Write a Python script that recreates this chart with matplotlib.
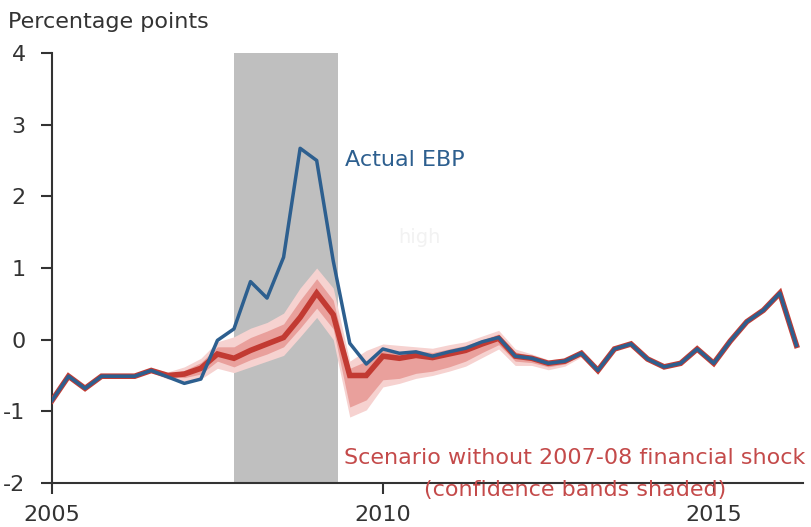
import numpy as np
import matplotlib
matplotlib.use("Agg")
import matplotlib.pyplot as plt

plt.rcParams['font.family'] = ['DejaVu Sans']
plt.rcParams['axes.unicode_minus'] = False

# quarterly observations, 2005Q1 .. 2016Q2
quarters = 2005 + 0.25 * np.arange(46)

actual_ebp = [-0.85, -0.51, -0.68, -0.51, -0.51, -0.51, -0.43, -0.52, -0.61, -0.55,
              -0.01, 0.15, 0.81, 0.58, 1.15, 2.67, 2.50, 1.10, -0.05, -0.34,
              -0.13, -0.19, -0.17, -0.23, -0.17, -0.12, -0.03, 0.03, -0.23, -0.26,
              -0.33, -0.30, -0.19, -0.43, -0.13, -0.06, -0.27, -0.38, -0.33, -0.13,
              -0.33, -0.02, 0.25, 0.41, 0.65, -0.08]

scenario = [-0.85, -0.51, -0.68, -0.51, -0.51, -0.51, -0.43, -0.50, -0.48, -0.40,
            -0.20, -0.26, -0.15, -0.06, 0.03, 0.31, 0.65, 0.35, -0.50, -0.50,
            -0.23, -0.26, -0.22, -0.25, -0.20, -0.15, -0.06, 0.02, -0.23, -0.26,
            -0.33, -0.30, -0.19, -0.43, -0.13, -0.06, -0.27, -0.38, -0.33, -0.13,
            -0.33, -0.02, 0.25, 0.41, 0.65, -0.08]

outer_hi = [-0.85, -0.51, -0.68, -0.51, -0.51, -0.51, -0.40, -0.45, -0.38, -0.26,
            -0.03, 0.04, 0.16, 0.24, 0.37, 0.72, 1.00, 0.72, -0.30, -0.15,
            -0.06, -0.08, -0.10, -0.12, -0.07, -0.03, 0.05, 0.13, -0.13, -0.20,
            -0.28, -0.26, -0.16, -0.43, -0.13, -0.06, -0.27, -0.38, -0.33, -0.13,
            -0.33, -0.02, 0.25, 0.41, 0.65, -0.08]
outer_lo = [-0.85, -0.51, -0.68, -0.51, -0.51, -0.51, -0.46, -0.55, -0.58, -0.55,
            -0.40, -0.46, -0.38, -0.30, -0.22, 0.04, 0.31, 0.00, -1.08, -0.98,
            -0.66, -0.61, -0.54, -0.50, -0.44, -0.37, -0.25, -0.13, -0.36, -0.36,
            -0.42, -0.37, -0.24, -0.43, -0.13, -0.06, -0.27, -0.38, -0.33, -0.13,
            -0.33, -0.02, 0.25, 0.41, 0.65, -0.08]
inner_hi = [-0.85, -0.51, -0.68, -0.51, -0.51, -0.51, -0.43, -0.48, -0.43, -0.32,
            -0.10, -0.10, 0.03, 0.12, 0.22, 0.55, 0.85, 0.55, -0.40, -0.30,
            -0.15, -0.18, -0.15, -0.18, -0.13, -0.08, 0.00, 0.08, -0.17, -0.23,
            -0.30, -0.28, -0.18, -0.43, -0.13, -0.06, -0.27, -0.38, -0.33, -0.13,
            -0.33, -0.02, 0.25, 0.41, 0.65, -0.08]
inner_lo = [-0.85, -0.51, -0.68, -0.51, -0.51, -0.51, -0.43, -0.52, -0.53, -0.48,
            -0.30, -0.38, -0.28, -0.20, -0.10, 0.16, 0.44, 0.15, -0.94, -0.84,
            -0.56, -0.54, -0.47, -0.44, -0.38, -0.30, -0.18, -0.07, -0.30, -0.32,
            -0.38, -0.34, -0.21, -0.43, -0.13, -0.06, -0.27, -0.38, -0.33, -0.13,
            -0.33, -0.02, 0.25, 0.41, 0.65, -0.08]

recession = (2007.75, 2009.32)
x_ticks = [2005, 2010, 2015]
y_ticks = [-2, -1, 0, 1, 2, 3, 4]

blue = '#2d5f8f'
red = '#c23a32'
red_text = '#c44a4a'

fig = plt.figure(figsize=(8.12, 5.27), dpi=100)
ax = fig.add_axes([0.064, 0.0835, 0.925, 0.816])

ax.axvspan(recession[0], recession[1], color='#bfbfbf', lw=0, zorder=0)
ax.fill_between(quarters, outer_lo, outer_hi, color='#f6d2d0', lw=0, zorder=1)
ax.fill_between(quarters, inner_lo, inner_hi, color='#e9a09c', lw=0, zorder=2)
ax.plot(quarters, scenario, color=red, lw=4, solid_joinstyle='miter', zorder=3)
ax.plot(quarters, actual_ebp, color=blue, lw=2.5, zorder=4)

ax.set_xlim(2005, 2016.35)
ax.set_ylim(-2, 4)
ax.set_xticks(x_ticks)
ax.set_yticks(y_ticks)
ax.tick_params(axis='both', length=8, width=1.5, color='#333333',
               labelsize=16, labelcolor='#333333')
ax.tick_params(axis='y', pad=11)
ax.tick_params(axis='x', pad=8)
for side in ['top', 'right']:
    ax.spines[side].set_visible(False)
for side in ['left', 'bottom']:
    ax.spines[side].set_linewidth(1.5)
    ax.spines[side].set_color('#333333')

fig.text(8 / 812, 1 - 22 / 527, 'Percentage points', fontsize=16,
         color='#333333', va='center', ha='left')

ax.text(2009.43, 2.5, 'Actual EBP', color=blue, fontsize=16, va='center')
ax.text(2010.23, 1.42, 'high', color='#f2f2f2', fontsize=14, va='center')
ax.text(2012.90, -1.65, 'Scenario without 2007-08 financial shock', color=red_text,
        fontsize=16, va='center', ha='center', clip_on=False)
ax.text(2012.90, -2.10, '(confidence bands shaded)', color=red_text,
        fontsize=16, va='center', ha='center', clip_on=False)

fig.savefig('out.png', dpi=100)
